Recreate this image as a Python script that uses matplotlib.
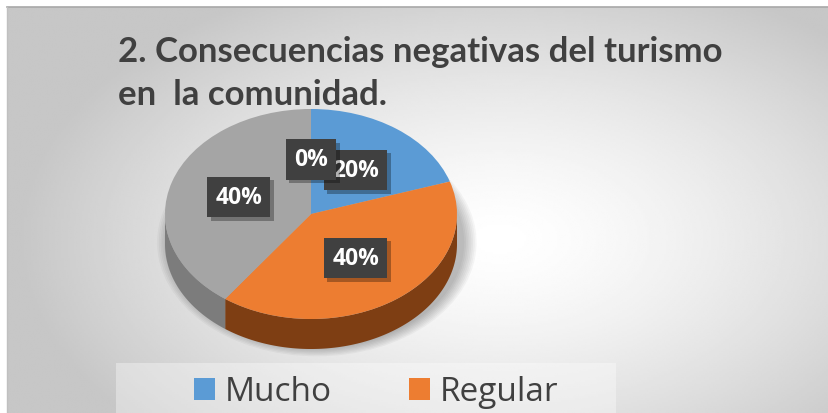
import matplotlib
matplotlib.use('Agg')
import matplotlib.pyplot as plt
import matplotlib.patheffects as pe
from matplotlib.patches import Rectangle, Ellipse, Polygon
import numpy as np

categories = ['Mucho', 'Regular', 'Poco', 'Nada']
values = [20, 40, 40, 0]
colors = ['#5B9BD5', '#ED7D31', '#A5A5A5', '#FFC000']
side_colors = ['#3f6f9a', '#7e3e13', '#7c7c7c', '#b08600']
title_lines = ['2. Consecuencias negativas del turismo', 'en  la comunidad.']
n_legend = 2   # only the first two entries are visible in the cropped picture

W, H = 829, 414
fig = plt.figure(figsize=(W / 100, H / 100), dpi=100)
fig.patch.set_facecolor('white')

bg = fig.add_axes([0, 0, 1, 1])
bg.set_xlim(0, W)
bg.set_ylim(H, 0)
bg.axis('off')

# radial grey gradient of the chart area
x0, y0 = 7, 8
xx, yy = np.meshgrid(np.linspace(x0, W, 400), np.linspace(y0, H, 200))
d = np.sqrt(((xx - 500) / 480) ** 2 + ((yy - 240) / 280) ** 2)
shade = 1 - 0.22 * np.clip(d, 0, 1) ** 1.4
bg.imshow(shade, cmap='gray', vmin=0, vmax=1, extent=[x0, W, H, y0],
          aspect='auto', zorder=0, interpolation='bilinear')
bg.plot([x0, W], [y0, y0], color='#a8a8a8', lw=1.2, zorder=1)
bg.plot([x0, x0], [y0, H], color='#c0c0c0', lw=1, zorder=1)

# legend band
bg.add_patch(Rectangle((116, 364), 500, 60, facecolor='white', alpha=0.35,
                       edgecolor='none', zorder=1))


def fit(txt, width):
    fig.canvas.draw()
    w = txt.get_window_extent().width
    txt.set_fontsize(txt.get_fontsize() * width / w)


# title
t1 = bg.text(118, 62, title_lines[0], fontsize=22, fontweight='bold',
             family='Lato', color='#404040', ha='left', va='baseline')
fit(t1, 604)
t2 = bg.text(118, 105, title_lines[1], fontsize=t1.get_fontsize(),
             fontweight='bold', family='Lato', color='#404040',
             ha='left', va='baseline')

# pie geometry in pixels
cx, cy, rx, ry, depth = 311, 215, 146, 105, 30
dd = depth / ry
left, right = cx - rx, cx + rx
top, bottom = cy - ry, cy + ry + depth
ax = fig.add_axes([left / W, (H - bottom) / H, (right - left) / W, (bottom - top) / H])

wedges, texts, autotexts = ax.pie(values, colors=colors, startangle=90,
                                  counterclock=False, autopct='%.0f%%',
                                  pctdistance=0.52,
                                  wedgeprops=dict(linewidth=0),
                                  textprops=dict(family='Open Sans', fontweight='bold',
                                                 fontsize=16.5, color='white'))
ax.set_aspect('auto')
ax.set_xlim(-1, 1)
ax.set_ylim(-1 - dd, 1)
ax.axis('off')

# soft shadow under the pie
for k in range(8):
    s = 1 + 0.012 * k
    ax.add_patch(Ellipse((0.04, -dd * 0.95), 2 * s + 0.02, 2 * s, facecolor='black',
                         alpha=0.035, edgecolor='none', zorder=0.2, clip_on=False))

# extruded side of the pie
for w, sc in zip(wedges, side_colors):
    t = np.radians(np.linspace(w.theta1, w.theta2, 300))
    t = t[np.sin(t) <= 0.0001]
    if len(t) < 2:
        continue
    xs = np.cos(t)
    ys = np.sin(t)
    pts = np.vstack([np.column_stack([xs, ys]),
                     np.column_stack([xs[::-1], ys[::-1] - dd])])
    ax.add_patch(Polygon(pts, closed=True, facecolor=sc, edgecolor='none', zorder=0.5))

# data labels
for a in autotexts:
    a.set_bbox(dict(boxstyle='square,pad=0.36', facecolor='#404040', edgecolor='none'))
    a.get_bbox_patch().set_path_effects([
        pe.withSimplePatchShadow(offset=(2.5, -2.5), shadow_rgbFace='black', alpha=0.3),
        pe.Normal()])

# legend
leg = bg.legend(wedges[:n_legend], categories[:n_legend], ncol=n_legend,
                loc='center left', bbox_to_anchor=(194 / W, 1 - 393 / H),
                frameon=False, prop=dict(family='Open Sans', size=24),
                handlelength=0.63, handleheight=0.63, handletextpad=0.3,
                columnspacing=2.3, borderpad=0, borderaxespad=0)
for txt in leg.get_texts():
    txt.set_color('#404040')

fig.savefig('out.png', dpi=100, facecolor=fig.get_facecolor())
